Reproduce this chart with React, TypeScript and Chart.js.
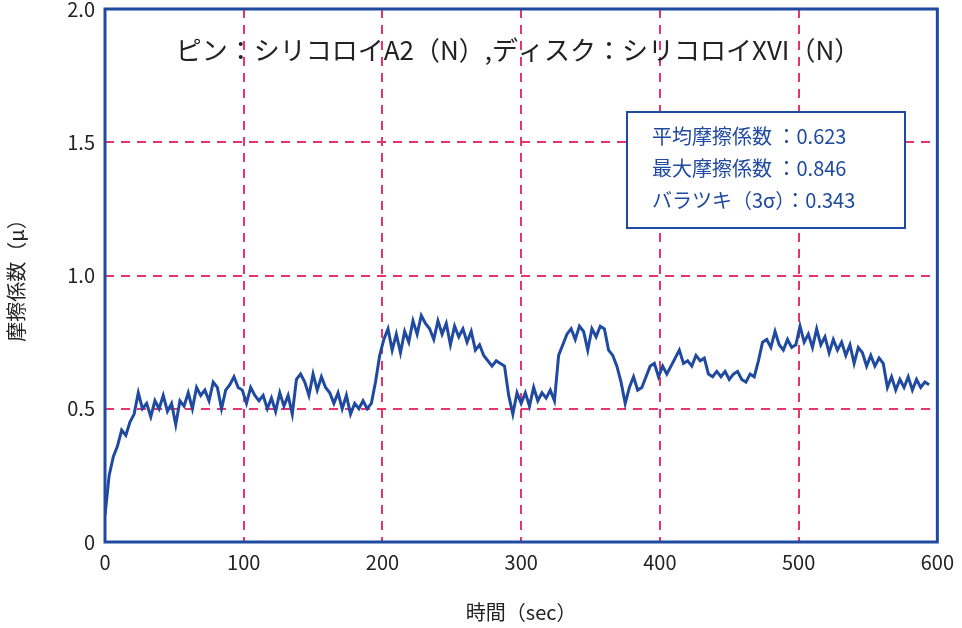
import React, { useEffect, useRef } from "react";
import { Chart, registerables } from "chart.js";
Chart.register(...registerables);

const times: number[] = [];
const mu = [0.10,0.25,0.32,0.36,0.42,0.40,0.45,0.48,0.56,0.50,0.52,0.47,0.53,0.50,0.55,0.49,0.52,0.44,0.53,0.51,0.56,0.50,0.58,0.55,0.57,0.53,0.60,0.58,0.50,0.57,0.59,0.62,0.58,0.57,0.52,0.58,0.55,0.53,0.55,0.50,0.54,0.49,0.56,0.51,0.55,0.48,0.61,0.63,0.60,0.55,0.63,0.57,0.62,0.58,0.56,0.52,0.56,0.50,0.55,0.48,0.52,0.50,0.53,0.50,0.52,0.60,0.70,0.76,0.80,0.72,0.78,0.71,0.79,0.75,0.83,0.78,0.85,0.82,0.80,0.76,0.83,0.78,0.82,0.74,0.81,0.77,0.80,0.75,0.79,0.72,0.74,0.70,0.68,0.66,0.68,0.67,0.66,0.55,0.48,0.56,0.52,0.56,0.51,0.58,0.53,0.56,0.54,0.57,0.53,0.70,0.74,0.78,0.80,0.76,0.81,0.79,0.72,0.80,0.77,0.81,0.80,0.72,0.70,0.66,0.60,0.52,0.58,0.62,0.57,0.58,0.62,0.66,0.67,0.62,0.66,0.63,0.66,0.69,0.72,0.67,0.68,0.66,0.70,0.68,0.69,0.63,0.62,0.64,0.62,0.64,0.61,0.63,0.64,0.61,0.60,0.63,0.62,0.68,0.75,0.76,0.73,0.79,0.74,0.72,0.76,0.73,0.74,0.81,0.75,0.78,0.73,0.80,0.74,0.77,0.71,0.76,0.72,0.75,0.70,0.74,0.67,0.73,0.71,0.66,0.70,0.66,0.69,0.67,0.58,0.62,0.57,0.61,0.58,0.62,0.57,0.61,0.58,0.60,0.59];
for (let i = 0; i < mu.length; i++) times.push(i * 3);

const titleText = "ピン：シリコロイA2（N）,ディスク：シリコロイXVI（N）";
const statLines = ["平均摩擦係数 ：0.623", "最大摩擦係数 ：0.846", "バラツキ（3σ）：0.343"];
const xTicks = [0, 100, 200, 300, 400, 500, 600];
const yTicks = [0, 0.5, 1.0, 1.5, 2.0];

const BLUE = "#1f4aa0";
const FONT = "'Noto Sans CJK JP', 'Noto Sans', sans-serif";
const OFF = 13;

export default function App() {
  const ref = useRef<HTMLCanvasElement>(null);
  useEffect(() => {
    document.body.style.margin = "0";
    const overlay = {
      id: "overlay",
      afterDraw(chart: any) {
        const { ctx, chartArea: a } = chart;
        ctx.save();
        ctx.strokeStyle = BLUE;
        ctx.lineWidth = 3;
        ctx.strokeRect(a.left, a.top, a.right - a.left, a.bottom - a.top);
        ctx.fillStyle = "#222";
        ctx.font = `26px ${FONT}`;
        ctx.textAlign = "center";
        ctx.textBaseline = "middle";
        ctx.fillText(titleText, 518, 50 + OFF);
        ctx.fillStyle = "#fff";
        ctx.fillRect(627, 112 + OFF, 278, 116);
        ctx.lineWidth = 2;
        ctx.strokeRect(627, 112 + OFF, 278, 116);
        ctx.fillStyle = BLUE;
        ctx.font = `20px ${FONT}`;
        ctx.textAlign = "left";
        statLines.forEach((s, i) => ctx.fillText(s, 652, 136 + OFF + i * 32));
        ctx.restore();
      },
    };
    const chart = new Chart(ref.current!, {
      type: "line",
      data: {
        datasets: [{
          data: times.map((t, i) => ({ x: t, y: mu[i] })),
          borderColor: BLUE, borderWidth: 3, pointRadius: 0, tension: 0,
        }],
      },
      options: {
        animation: false, responsive: false,
        layout: { padding: { top: 9, right: 22, left: 0, bottom: 0 } },
        plugins: { legend: { display: false }, tooltip: { enabled: false } },
        scales: {
          x: {
            type: "linear", min: 0, max: 600,
            afterBuildTicks: (s: any) => { s.ticks = xTicks.map(v => ({ value: v })); },
            afterFit: (s: any) => { s.height = 86; },
            ticks: { font: { size: 20, family: FONT }, color: "#222", padding: 8 },
            grid: { color: "#e8336b", lineWidth: 2, drawTicks: false },
            border: { display: false, dash: [9, 7] },
            title: { display: true, text: "時間（sec）", font: { size: 20, family: FONT }, color: "#222", padding: { top: 2 } },
          },
          y: {
            min: 0, max: 2,
            afterBuildTicks: (s: any) => { s.ticks = yTicks.map(v => ({ value: v })); },
            afterFit: (s: any) => { s.width = 105; },
            ticks: { font: { size: 20, family: FONT }, color: "#222", padding: 10,
              callback: (v: any) => (v === 0 ? "0" : Number(v).toFixed(1)) },
            grid: { color: "#e8336b", lineWidth: 2, drawTicks: false },
            border: { display: false, dash: [9, 7] },
            title: { display: true, text: "摩擦係数（μ）", font: { size: 20, family: FONT }, color: "#222", padding: { bottom: 0 } },
          },
        },
      },
      plugins: [overlay],
    } as any);
    return () => chart.destroy();
  }, []);
  return (
    <div style={{ width: 962, height: 628, overflow: "hidden", position: "relative" }}>
      <canvas ref={ref} width={962} height={628 + OFF} style={{ position: "absolute", top: -OFF, left: 0 }} />
    </div>
  );
}
